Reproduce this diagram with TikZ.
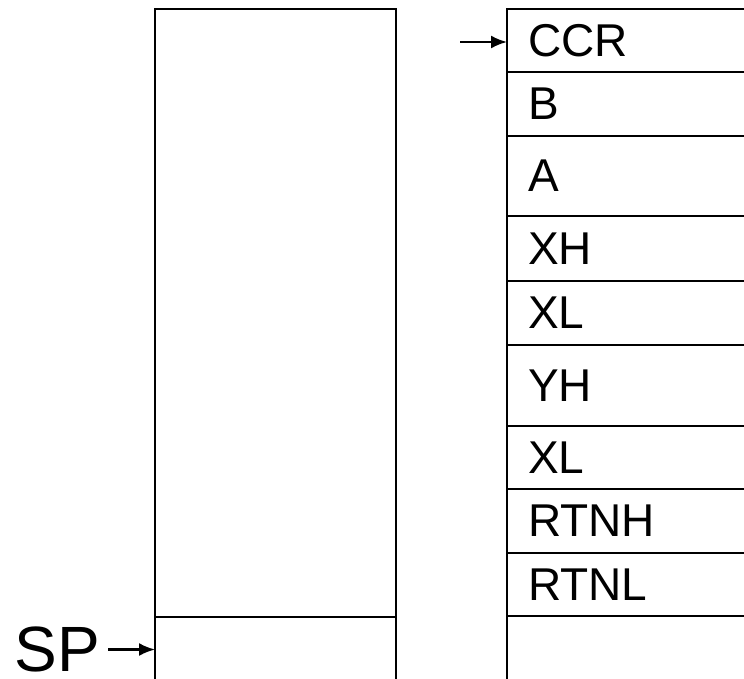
\documentclass[tikz,border=0pt]{standalone}
\usepackage{fontspec}
\setmainfont{Liberation Sans}
\usepackage{tikz}
\usetikzlibrary{arrows.meta}
\usetikzlibrary{positioning}
\tikzset{stack-line/.style={line width=2.2pt}}
\tikzset{>={Latex[length=16pt, width=13pt]}}
\tikzset{stack-cell/.style={draw, stack-line, inner sep=0, outer sep=0, minimum width=241pt}}
\tikzset{frame-cell/.style={
        draw,
        stack-line,
        outer sep=0,
        inner xsep=21pt,
        inner ysep=0,
        text width=218pt,
        align=left,
        font=\fontsize{46}{50}\selectfont
    }
}
\tikzset{pointer/.style={->, stack-line}}

\begin{document}
\begin{tikzpicture}[x=1pt, y=-1pt]
            \clip (0,0) rectangle (744,679);

            % stack before the interrupt
            \node[stack-cell, anchor=north west, minimum height=608pt] (stack) at (155,9) {};
            \node[stack-cell, below=0pt of stack, minimum height=83pt] (spcell) {};
            \node[inner sep=0pt, left=55pt of spcell.west, yshift=9pt,
                  font=\fontsize{64}{70}\selectfont] (sp) {SP};
            \draw[pointer, shorten <=8pt] (sp.east) -- (sp.east -| spcell.west);

            % stack after the interrupt
            \node[frame-cell, anchor=north west, minimum height=63pt] (ccr) at (507,9) {CCR};
            \node[frame-cell, below=0pt of ccr, minimum height=64pt] (b) {B};
            \node[frame-cell, below=0pt of b, minimum height=80pt] (a) {A};
            \node[frame-cell, below=0pt of a, minimum height=65pt] (xh) {XH};
            \node[frame-cell, below=0pt of xh, minimum height=64pt] (xl) {XL};
            \node[frame-cell, below=0pt of xl, minimum height=81pt] (yh) {YH};
            \node[frame-cell, below=0pt of yh, minimum height=63pt] (yl) {XL};
            \node[frame-cell, below=0pt of yl, minimum height=64pt] (rtnh) {RTNH};
            \node[frame-cell, below=0pt of rtnh, minimum height=63pt] (rtnl) {RTNL};
            \node[frame-cell, below=0pt of rtnl, minimum height=83pt] (free) {};

            \coordinate (top) at (460,42);
            \draw[pointer] (top) -- (top -| ccr.west);
        \end{tikzpicture}
\end{document}
